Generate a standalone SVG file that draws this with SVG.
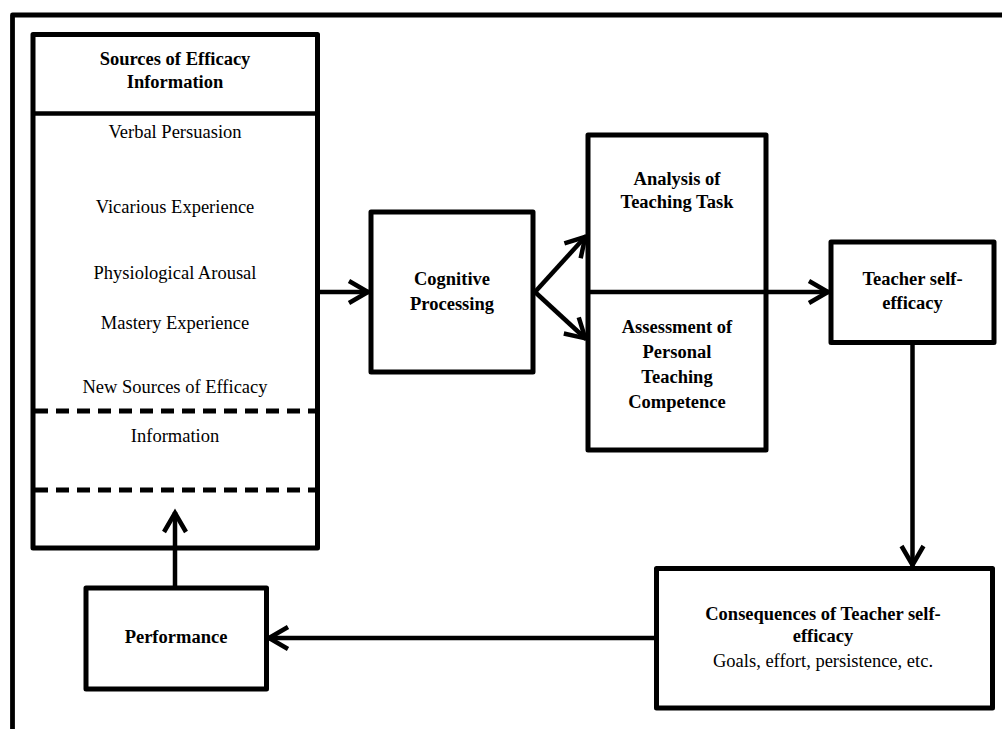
<svg xmlns="http://www.w3.org/2000/svg" width="1002" height="729" viewBox="0 0 1002 729">
  <style>
    .box { fill: #fff; stroke: #000; stroke-width: 5; stroke-linejoin: round; }
    .line { fill: none; stroke: #000; stroke-width: 4.5; }
    .dash { fill: none; stroke: #000; stroke-width: 5; stroke-dasharray: 13 8; }
    .t { font-family: 'Liberation Serif', 'Times New Roman', 'DejaVu Serif', serif; font-size: 18.5px; fill: #000; text-anchor: middle; }
    .b { font-weight: bold; }
  </style>
  <defs>
    <marker id="arrow" markerUnits="userSpaceOnUse" markerWidth="30" markerHeight="30" viewBox="-24 -15 30 30" refX="1" refY="0" orient="auto">
      <path d="M-19,-11 L0,0 L-19,11" fill="none" stroke="#000" stroke-width="4.5" stroke-linejoin="miter"/>
    </marker>
  </defs>

  <rect width="1002" height="729" fill="#fff"/>

  <!-- outer frame -->
  <path d="M12.5,729 L12.5,15 L1010,15" fill="none" stroke="#000" stroke-width="4.8" stroke-linejoin="round"/>

  <!-- sources of efficacy information -->
  <g id="sources">
    <rect class="box" x="33" y="34.5" width="284.5" height="513.5"/>
    <line class="line" x1="33" y1="113.5" x2="317.5" y2="113.5" stroke-width="5"/>
    <text class="t b" x="175" y="65">Sources of Efficacy</text>
    <text class="t b" x="175" y="88">Information</text>
    <text class="t" x="175" y="137.5">Verbal Persuasion</text>
    <text class="t" x="175" y="213">Vicarious Experience</text>
    <text class="t" x="175" y="279">Physiological Arousal</text>
    <text class="t" x="175" y="329">Mastery Experience</text>
    <text class="t" x="175" y="392.5">New Sources of Efficacy</text>
    <line class="dash" x1="35" y1="411" x2="316" y2="411"/>
    <text class="t" x="175" y="441.5">Information</text>
    <line class="dash" x1="35" y1="490" x2="316" y2="490"/>
  </g>

  <!-- cognitive processing -->
  <g id="cognitive">
    <rect class="box" x="371" y="212" width="162" height="160"/>
    <text class="t b" x="452" y="285">Cognitive</text>
    <text class="t b" x="452" y="310">Processing</text>
  </g>

  <!-- analysis / assessment -->
  <g id="analysis">
    <rect class="box" x="588" y="135" width="178" height="315"/>
    <text class="t b" x="677" y="185">Analysis of</text>
    <text class="t b" x="677" y="208">Teaching Task</text>
  </g>
  <g id="assessment">
    <line class="line" x1="588" y1="292" x2="766" y2="292"/>
    <text class="t b" x="677" y="333">Assessment of</text>
    <text class="t b" x="677" y="358">Personal</text>
    <text class="t b" x="677" y="383">Teaching</text>
    <text class="t b" x="677" y="408">Competence</text>
  </g>

  <!-- teacher self-efficacy -->
  <g id="self-efficacy">
    <rect class="box" x="831" y="242" width="163" height="100.5"/>
    <text class="t b" x="912.5" y="285">Teacher self-</text>
    <text class="t b" x="912.5" y="309">efficacy</text>
  </g>

  <!-- consequences -->
  <g id="consequences">
    <rect class="box" x="656.5" y="568.5" width="336" height="139.5"/>
    <text class="t b" x="823" y="620">Consequences of Teacher self-</text>
    <text class="t b" x="823" y="642">efficacy</text>
    <text class="t" x="823" y="667">Goals, effort, persistence, etc.</text>
  </g>

  <!-- performance -->
  <g id="performance">
    <rect class="box" x="86" y="588" width="180.5" height="101"/>
    <text class="t b" x="176" y="643">Performance</text>
  </g>

  <!-- connectors, drawn last so the feedback arrow shows inside the sources box -->
  <g id="connectors">
    <line class="line" x1="319" y1="292" x2="369" y2="292" marker-end="url(#arrow)"/>
    <line class="line" x1="535" y1="292" x2="586" y2="236" marker-end="url(#arrow)"/>
    <line class="line" x1="535" y1="292" x2="586" y2="339" marker-end="url(#arrow)"/>
    <line class="line" x1="768" y1="292" x2="829" y2="292" marker-end="url(#arrow)"/>
    <line class="line" x1="912.5" y1="345" x2="912.5" y2="566" marker-end="url(#arrow)"/>
    <line class="line" x1="654" y1="638" x2="268" y2="638" marker-end="url(#arrow)"/>
    <line class="line" x1="175" y1="586" x2="175" y2="512" marker-end="url(#arrow)"/>
  </g>
</svg>
